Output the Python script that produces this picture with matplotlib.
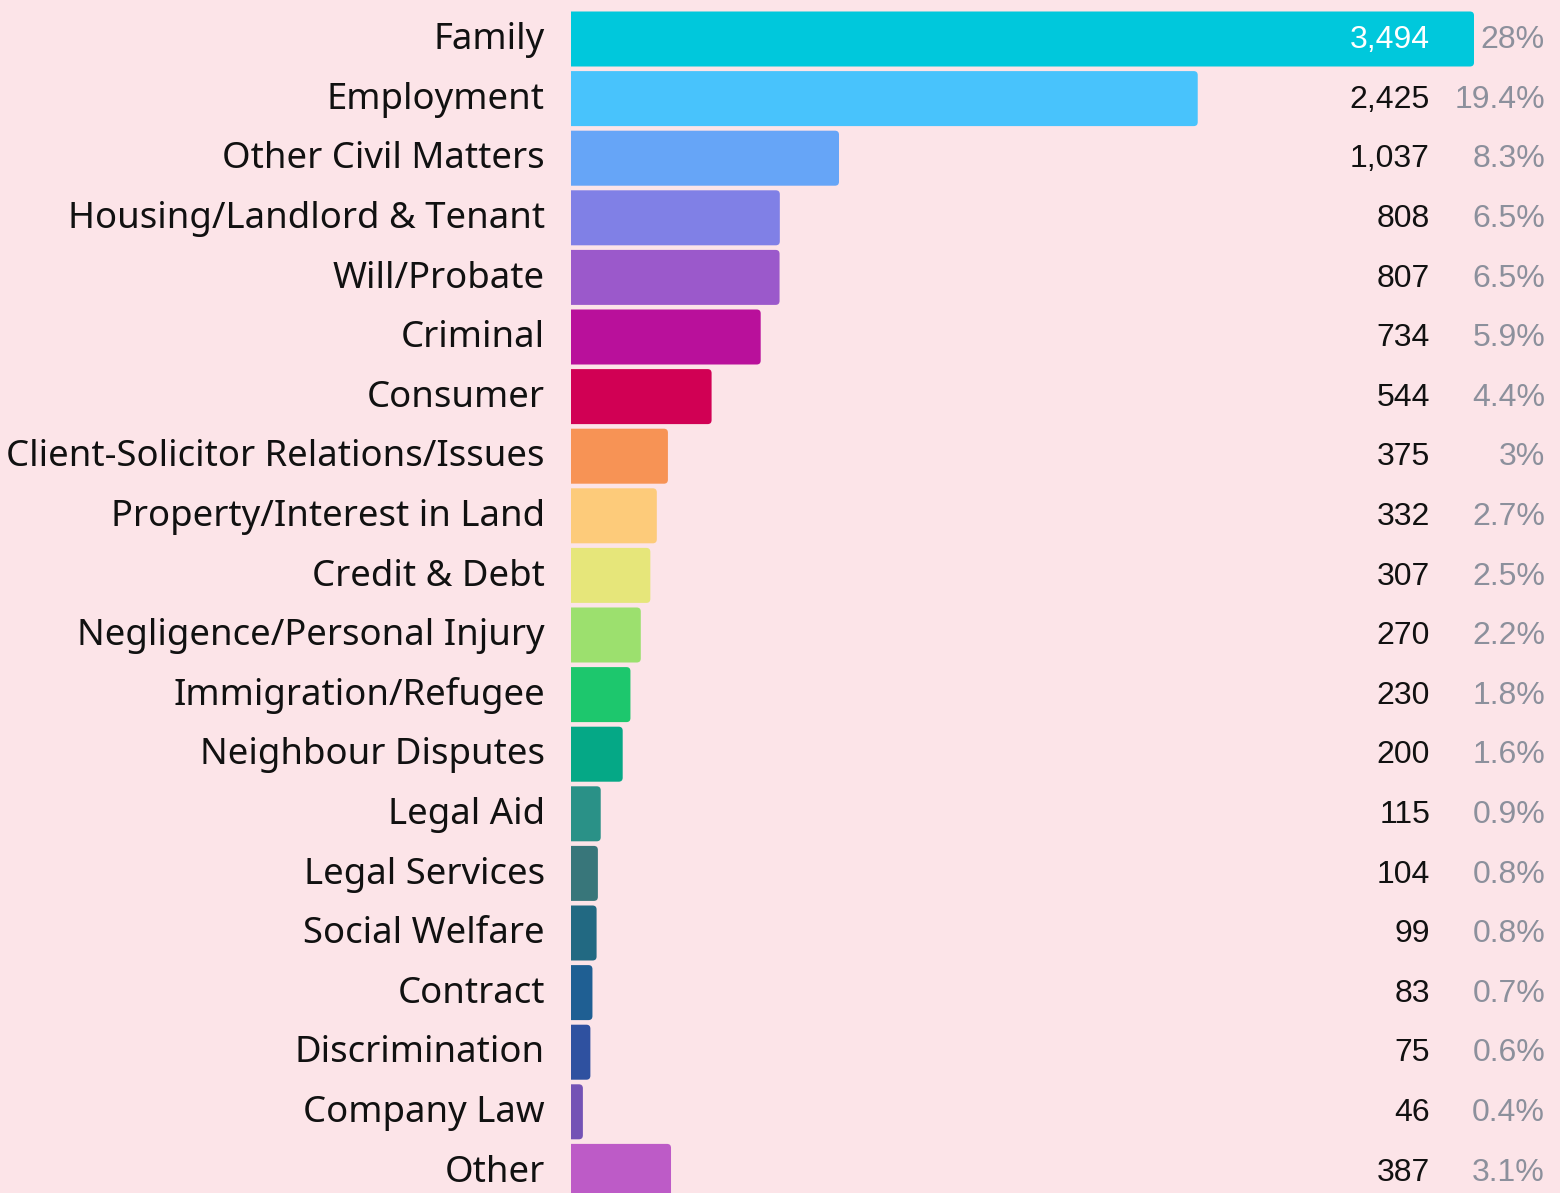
import matplotlib.pyplot as plt
from matplotlib.patches import FancyBboxPatch

categories = ["Family", "Employment", "Other Civil Matters", "Housing/Landlord & Tenant",
              "Will/Probate", "Criminal", "Consumer", "Client-Solicitor Relations/Issues",
              "Property/Interest in Land", "Credit & Debt", "Negligence/Personal Injury",
              "Immigration/Refugee", "Neighbour Disputes", "Legal Aid", "Legal Services",
              "Social Welfare", "Contract", "Discrimination", "Company Law", "Other"]
counts = [3494, 2425, 1037, 808, 807, 734, 544, 375, 332, 307, 270, 230, 200, 115, 104,
          99, 83, 75, 46, 387]
percents = ["28%", "19.4%", "8.3%", "6.5%", "6.5%", "5.9%", "4.4%", "3%", "2.7%", "2.5%",
            "2.2%", "1.8%", "1.6%", "0.9%", "0.8%", "0.8%", "0.7%", "0.6%", "0.4%", "3.1%"]
colors = ["#00c8dc", "#48c3fc", "#66a5f7", "#8080e6", "#9b59cb", "#b9109b", "#d10054",
          "#f79355", "#fdcb7a", "#e6e67a", "#9ce06e", "#1dc76d", "#05a886", "#2a9187",
          "#38767a", "#226982", "#1f5f93", "#2f51a0", "#7452b5", "#bd5bc7"]

W, H = 1560, 1193
bg = "#fce4e8"
fig = plt.figure(figsize=(W / 100, H / 100), dpi=100, facecolor=bg)

# axes: bars start at x=571px, 3494 ends at 1474px
x0 = 571
px_per_unit = (1474 - x0) / 3494
ax = fig.add_axes([x0 / W, 0, (W - x0) / W, 1])
ax.set_facecolor(bg)
ax.set_xlim(0, (W - x0) / px_per_unit)
pitch = 59.6
top = -39 / pitch
ax.set_ylim(top + H / pitch, top)
ax.axis("off")

bar_h = 55 / pitch
rx = 4 / px_per_unit
ry = 4 / pitch
for i, (v, c) in enumerate(zip(counts, colors)):
    p = FancyBboxPatch((-rx * 2, i - bar_h / 2), v + rx * 2, bar_h,
                       boxstyle=f"round,pad=0,rounding_size={rx}",
                       mutation_aspect=ry / rx, fc=c, ec="none")
    ax.add_patch(p)

lab_x = (545 - x0) / px_per_unit
num_x = (1430 - x0) / px_per_unit
pct_x = (1545 - x0) / px_per_unit
for i, (cat, v, pc) in enumerate(zip(categories, counts, percents)):
    ax.text(lab_x, i + 0.02, cat, ha="right", va="center", fontsize=26.3,
            family="Noto Sans", color="#111111", clip_on=False)
    ax.text(num_x, i + 0.02, f"{v:,}", ha="right", va="center", fontsize=23,
            family="Liberation Sans", color="white" if v > 3000 else "#111111")
    ax.text(pct_x, i + 0.02, pc, ha="right", va="center", fontsize=23,
            family="Liberation Sans", color="#8c909c")

fig.savefig("out.png", dpi=100, facecolor=bg)
